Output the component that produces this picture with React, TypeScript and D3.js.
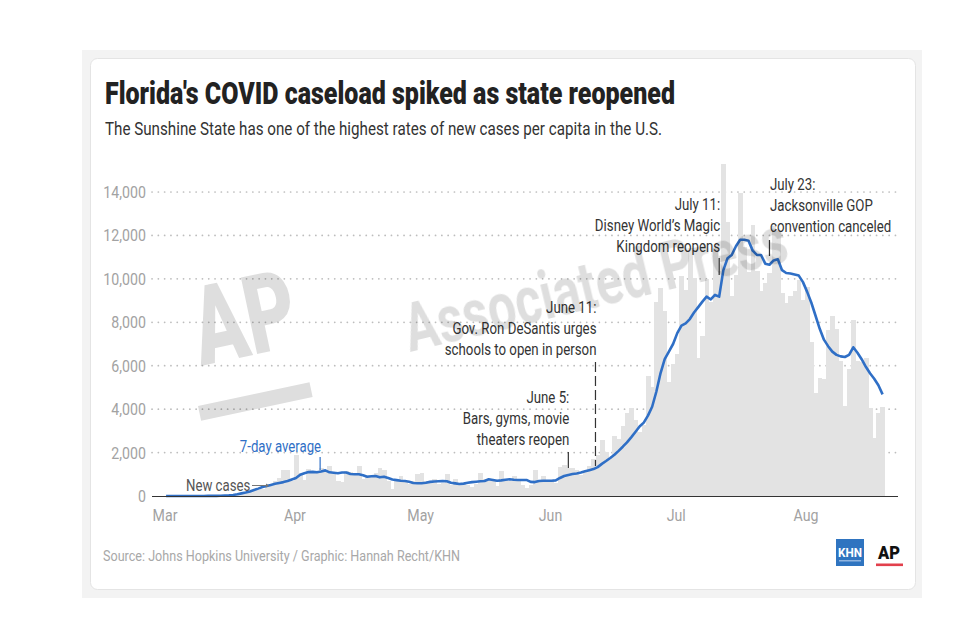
import React from 'react';
import * as d3 from 'd3';

// ---------- DATA ----------
const startDate = '2020-03-01';

// Daily new cases, Mar 1 – Aug 19, 2020
const newCases: number[] = [
  // March
  0, 0, 1, 0, 1, 2, 1, 2, 3, 3, 6, 8, 10, 15, 25, 40, 60, 90, 140, 170, 230, 260, 290,
  300, 480, 560, 700, 830, 1200, 1200, 700,
  // April
  1900, 1050, 750, 1250, 1150, 1050, 1300, 1100, 1380, 1050, 700, 650, 1150, 1100, 1050,
  1380, 800, 950, 900, 1050, 1290, 1200, 700, 330, 750, 900, 700, 560, 700, 1000,
  // May
  1050, 700, 600, 800, 540, 600, 1000, 500, 780, 600, 560, 520, 420, 530, 1050, 780, 770,
  710, 480, 1150, 770, 700, 900, 750, 500, 380, 500, 1200, 650, 930, 740,
  // June
  670, 620, 1320, 1420, 1300, 1270, 1180, 970, 1100, 1370, 1700, 1900, 2580, 2020, 1760,
  2780, 2610, 3210, 3820, 4050, 3490, 2930, 3290, 5510, 5000, 8940, 9590, 8530, 5270, 6090,
  // July
  6560, 10110, 9490, 11440, 10060, 6340, 7360, 9990, 8940, 11430, 10360, 15300, 12620, 9190,
  10180, 13960, 11470, 10330, 12480, 10350, 9440, 9790, 10250, 12440, 12200, 9340, 8890,
  9230, 9450, 9960, 9010,
  // August
  9640, 7100, 4750, 5450, 5410, 7650, 8300, 7700, 6200, 4150, 5830, 8110, 6240, 6150, 6350,
  4060, 2680, 3840, 4120,
];

// 7-day average
const sevenDayAvg: number[] = [
  // March
  0, 0, 0, 1, 1, 1, 2, 2, 3, 3, 5, 6, 8, 12, 18, 28, 45, 80, 120, 160, 210, 280, 340,
  410, 460, 510, 560, 600, 640, 690, 760,
  // April
  830, 980, 1050, 1100, 1110, 1090, 1130, 1180, 1090, 1070, 1050, 1080, 1085, 1010, 1005,
  1000, 960, 890, 910, 920, 860, 890, 830, 760, 730, 700, 690, 660, 600, 590,
  // May
  590, 610, 650, 670, 680, 690, 680, 610, 580, 550, 570, 610, 640, 660, 680, 690, 770,
  740, 700, 720, 750, 770, 750, 740, 740, 740, 650, 640, 690, 700, 700,
  // June
  700, 720, 830, 920, 970, 1010, 1040, 1080, 1140, 1190, 1240, 1330, 1480, 1610, 1750,
  1900, 2080, 2270, 2470, 2700, 2950, 3200, 3380, 3700, 4110, 4800, 5650, 6300, 6650, 7000,
  // July
  7500, 7850, 7950, 8150, 8450, 8700, 8950, 9180, 9050, 9260, 9180, 10400, 10950, 11100,
  11500, 11800, 11800, 11750, 11300, 11100, 11100, 10700, 10650, 10850, 10900, 10400,
  10270, 10250, 10200, 10150, 9850,
  // August
  9400, 8900, 8300, 7700, 7200, 6900, 6650, 6500, 6430, 6400, 6500, 6850, 6600, 6300,
  5950, 5650, 5400, 5100, 4680,
];

const yTicks = [0, 2000, 4000, 6000, 8000, 10000, 12000, 14000];
const monthStarts = ['2020-03-01', '2020-04-01', '2020-05-01', '2020-06-01', '2020-07-01', '2020-08-01'];
const monthLabels = ['Mar', 'Apr', 'May', 'Jun', 'Jul', 'Aug'];

const annotationDates = ['2020-06-05', '2020-06-11', '2020-07-11', '2020-07-23'];
const annotationTexts = [
  ['June 5:', 'Bars, gyms, movie', 'theaters reopen'],
  ['June 11:', 'Gov. Ron DeSantis urges', 'schools to open in person'],
  ['July 11:', 'Disney World\u2019s Magic', 'Kingdom reopens'],
  ['July 23:', 'Jacksonville GOP', 'convention canceled'],
];

const titleText = "Florida's COVID caseload spiked as state reopened";
const subtitleText = 'The Sunshine State has one of the highest rates of new cases per capita in the U.S.';
const sourceText = 'Source: Johns Hopkins University / Graphic: Hannah Recht/KHN';

// ---------- LAYOUT ----------
const W = 960;
const H = 637;
const FONT = 'Roboto, "Noto Sans", sans-serif';
const BLUE = '#2f6fc6';

// per-annotation layout: text anchor, first baseline, tick y range, dashed
const annLayout = [
  { anchor: 'end', dx: 0, y0: 403, t0: 452, t1: 468, dashed: false },
  { anchor: 'end', dx: 2, y0: 313, t0: 362, t1: 466, dashed: true },
  { anchor: 'end', dx: 0, y0: 210, t0: 258, t1: 275, dashed: false },
  { anchor: 'start', dx: 0, y0: 190, t0: 240, t1: 256, dashed: false },
];

type CTProps = {
  x: number; y: number; sx?: number; anchor?: string; size?: number; fill?: string;
  weight?: number; children: React.ReactNode;
};
const CT = ({ x, y, sx = 0.8, anchor = 'start', size = 16.5, fill = '#333', weight = 400, children }: CTProps) => (
  <text
    transform={`translate(${x},${y}) scale(${sx},1)`}
    textAnchor={anchor as any}
    fontSize={size}
    fill={fill}
    fontWeight={weight}
    fontFamily={FONT}
  >
    {children}
  </text>
);

export default function App() {
  const parse = d3.utcParse('%Y-%m-%d');
  const start = parse(startDate) as Date;
  const n = newCases.length;
  const dates = d3.utcDay.range(start, d3.utcDay.offset(start, n));
  const end = d3.utcDay.offset(start, n);

  const x = d3.scaleUtc().domain([start, end]).range([164, 164 + n * 4.19]);
  const y = d3.scaleLinear().domain([0, 14000]).range([496, 192]);
  const bw = x(d3.utcDay.offset(start, 1)) - x(start);

  const line = d3
    .line<number>()
    .x((_, i) => x(dates[i]) + bw / 2)
    .y((v) => y(v))
    .curve(d3.curveLinear);

  const plotL = 152;
  const plotR = 898;

  return (
    <svg
      width={W}
      height={H}
      viewBox={`0 0 ${W} ${H}`}
      style={{ position: 'absolute', left: 0, top: 0, background: '#fff' }}
    >
      {/* frame */}
      <rect x={82} y={50} width={840} height={548} fill="#f3f3f3" />
      <rect x={90.5} y={58.5} width={825} height={531} rx={7} fill="#fff" stroke="#e4e4e4" />

      {/* title */}
      <text
        x={105}
        y={104}
        fontFamily={FONT}
        fontWeight={900}
        fontSize={32}
        fill="#222"
        textLength={570}
        lengthAdjust="spacingAndGlyphs"
      >
        {titleText}
      </text>
      <text
        x={105}
        y={134.5}
        fontFamily={FONT}
        fontSize={18.5}
        fill="#333"
        textLength={557}
        lengthAdjust="spacingAndGlyphs"
      >
        {subtitleText}
      </text>

      {/* gridlines */}
      {yTicks.filter((t) => t > 0).map((t) => (
        <line
          key={t}
          x1={plotL}
          x2={plotR}
          y1={y(t)}
          y2={y(t)}
          stroke="#bdbdbd"
          strokeWidth={1.7}
          strokeLinecap="round"
          strokeDasharray="0.1 6.2"
        />
      ))}

      {/* bars */}
      <g fill="#e3e3e3" shapeRendering="crispEdges">
        {newCases.map((v, i) => (
          <rect key={i} x={x(dates[i])} y={y(v)} width={bw + 0.6} height={y(0) - y(v)} />
        ))}
      </g>

      {/* 7-day average line */}
      <path d={line(sevenDayAvg) || ''} fill="none" stroke={BLUE} strokeWidth={2.6} strokeLinejoin="round" />

      {/* axis baseline */}
      <line x1={plotL} x2={plotR} y1={496.5} y2={496.5} stroke="#333" strokeWidth={1.2} />

      {/* y labels */}
      {yTicks.map((t) => (
        <CT key={t} x={146} y={y(t) + 6} anchor="end" sx={0.86} fill="#a2a2a2">
          {d3.format(',')(t)}
        </CT>
      ))}

      {/* x labels */}
      {monthStarts.map((m, i) => (
        <CT key={m} x={x(parse(m) as Date) + 1} y={521} anchor="middle" sx={0.86} fill="#a2a2a2">
          {monthLabels[i]}
        </CT>
      ))}

      {/* annotations */}
      {annotationDates.map((ds, k) => {
        const L = annLayout[k];
        const cx = x(parse(ds) as Date) + bw / 2 + L.dx;
        return (
          <g key={ds}>
            {annotationTexts[k].map((t, j) => (
              <CT key={j} x={L.anchor === 'end' ? cx + 1 : cx + 0.5} y={L.y0 + j * 21} anchor={L.anchor} size={17} sx={0.78} fill="#333">
                {t}
              </CT>
            ))}
            <line
              x1={cx}
              x2={cx}
              y1={L.t0}
              y2={L.t1}
              stroke="#333"
              strokeWidth={1.2}
              strokeDasharray={L.dashed ? '10 4' : undefined}
            />
          </g>
        );
      })}

      {/* 7-day average label */}
      {(() => {
        const cx = x(parse('2020-04-07') as Date) + bw / 2 - 1;
        return (
          <g>
            <CT x={cx + 1} y={451.5} anchor="end" sx={0.8} fill={BLUE}>
              7-day average
            </CT>
            <line x1={cx} x2={cx} y1={457} y2={470} stroke={BLUE} strokeWidth={1.2} />
          </g>
        );
      })()}

      {/* new cases label */}
      <CT x={186} y={491} sx={0.8} fill="#555">
        New cases
      </CT>
      <line x1={252} x2={266} y1={485.5} y2={485.5} stroke="#777" strokeWidth={1} />
      <path d="M266,483.5 L269,485.5 L266,487.5 Z" fill="#777" />

      {/* watermarks */}
      <g opacity={0.13} fill="#000" fontFamily={FONT} fontWeight={900}>
        <text
          transform="translate(201,366) rotate(-12)"
          fontSize={110}
          textLength={104}
          lengthAdjust="spacingAndGlyphs"
        >
          AP
        </text>
        <rect transform="translate(198,406) rotate(-12)" width={114} height={15} />
        <text
          transform="translate(410,352) rotate(-13.5)"
          fontSize={66}
          fontWeight={700}
          textLength={392}
          lengthAdjust="spacingAndGlyphs"
        >
          Associated Press
        </text>
      </g>

      {/* source */}
      <text
        x={103}
        y={561}
        fontFamily={FONT}
        fontSize={14.5}
        fill="#a8a8a8"
        textLength={357}
        lengthAdjust="spacingAndGlyphs"
      >
        {sourceText}
      </text>

      {/* logos */}
      <rect x={836} y={539} width={28} height={27} fill="#2f74c0" />
      <text x={850} y={557} textAnchor="middle" fontFamily={FONT} fontWeight={700} fontSize={13} fill="#fff" textLength={24} lengthAdjust="spacingAndGlyphs">
        KHN
      </text>
      <rect x={839} y={560} width={22} height={1.5} fill="#8fb4e0" />
      <text x={889} y={559} textAnchor="middle" fontFamily={FONT} fontWeight={900} fontSize={19} fill="#111" textLength={22} lengthAdjust="spacingAndGlyphs">
        AP
      </text>
      <rect x={876} y={563.5} width={27} height={2.6} fill="#e2404c" />
    </svg>
  );
}
